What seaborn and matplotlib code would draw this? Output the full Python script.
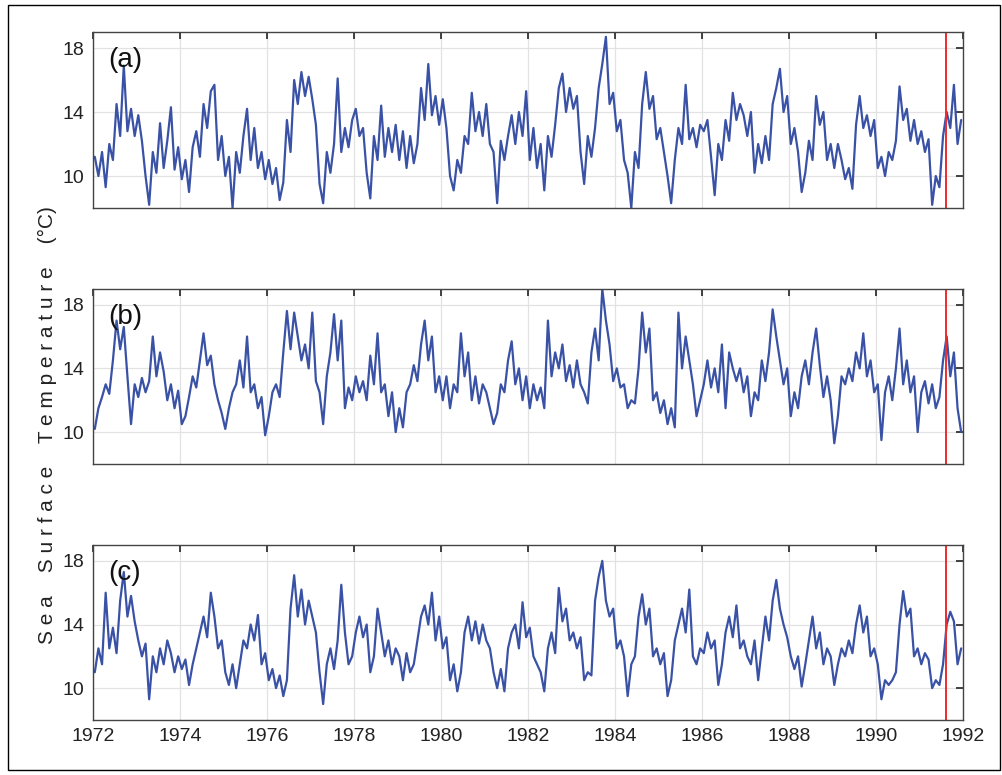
import numpy as np
import pandas as pd
import seaborn as sns
import matplotlib.pyplot as plt
from matplotlib.patches import Rectangle

years = list(range(1972, 1992))
months = list(range(12))
split_year = 1991.6

# monthly readings (°C), one row per year
sst_a = [
    [11.2, 10.0, 11.5, 9.3, 12.0, 11.0, 14.5, 12.5, 16.9, 12.8, 14.2, 12.5],
    [13.8, 12.2, 10.0, 8.2, 11.5, 10.2, 13.3, 10.5, 12.2, 14.3, 10.4, 11.8],
    [9.8, 11.0, 9.0, 11.8, 12.8, 11.2, 14.5, 13.0, 15.3, 15.7, 11.0, 12.5],
    [10.0, 11.2, 8.0, 11.5, 10.2, 12.5, 14.2, 11.0, 13.0, 10.5, 11.5, 9.8],
    [11.0, 9.5, 10.5, 8.5, 9.6, 13.5, 11.5, 16.0, 14.5, 16.5, 15.0, 16.2],
    [14.8, 13.2, 9.5, 8.3, 11.5, 10.2, 12.0, 16.1, 11.5, 13.0, 11.8, 13.5],
    [14.2, 12.5, 13.0, 10.2, 8.6, 12.5, 11.0, 14.4, 11.2, 13.0, 11.5, 13.2],
    [11.0, 12.8, 10.5, 12.5, 10.8, 12.0, 15.5, 13.5, 17.0, 13.8, 15.0, 13.2],
    [14.8, 13.0, 10.0, 9.1, 11.0, 10.2, 12.5, 12.0, 15.2, 12.8, 14.0, 12.5],
    [14.5, 12.0, 11.5, 8.3, 12.2, 11.0, 12.5, 13.8, 12.0, 14.0, 12.5, 15.3],
    [11.0, 13.0, 10.5, 12.0, 9.1, 12.5, 11.2, 13.2, 15.5, 16.4, 14.0, 15.5],
    [14.2, 15.0, 11.5, 9.5, 12.5, 11.2, 13.0, 15.5, 17.0, 18.7, 14.5, 15.2],
    [12.8, 13.5, 11.0, 10.2, 8.0, 11.5, 10.5, 14.5, 16.5, 14.2, 15.0, 12.3],
    [13.0, 11.5, 10.0, 8.3, 11.0, 13.0, 12.0, 15.7, 12.3, 13.0, 11.8, 13.2],
    [12.8, 13.5, 11.2, 8.8, 12.0, 11.0, 13.5, 12.2, 15.2, 13.5, 14.5, 13.8],
    [12.5, 14.0, 10.2, 12.0, 10.8, 12.5, 11.0, 14.5, 15.5, 16.7, 14.0, 15.0],
    [12.0, 13.0, 11.5, 9.0, 10.2, 12.2, 11.0, 15.0, 13.2, 14.0, 11.0, 12.0],
    [10.5, 12.0, 11.0, 9.8, 10.5, 9.2, 13.2, 15.0, 13.0, 13.8, 12.5, 13.5],
    [10.5, 11.2, 10.0, 11.5, 11.0, 12.2, 15.6, 13.5, 14.2, 12.2, 13.5, 12.0],
    [12.8, 11.5, 12.3, 8.2, 10.0, 9.3, 12.5, 14.0, 13.0, 15.7, 12.0, 13.5],
]
sst_b = [
    [10.2, 11.5, 12.2, 13.0, 12.4, 14.5, 17.0, 15.2, 16.6, 13.5, 10.5, 13.0],
    [12.2, 13.4, 12.5, 13.2, 16.0, 13.5, 15.0, 13.8, 12.0, 13.0, 11.5, 12.6],
    [10.5, 11.0, 12.2, 13.5, 12.8, 14.5, 16.2, 14.2, 14.8, 13.0, 12.0, 11.2],
    [10.2, 11.5, 12.5, 13.0, 14.5, 12.8, 16.0, 12.5, 13.0, 11.5, 12.2, 9.8],
    [11.0, 12.5, 13.0, 12.2, 15.0, 17.6, 15.2, 17.5, 16.0, 14.5, 15.5, 14.0],
    [17.5, 13.2, 12.5, 10.5, 13.5, 15.0, 17.4, 14.5, 17.0, 11.5, 12.8, 12.0],
    [13.5, 12.5, 13.2, 12.0, 14.8, 13.0, 16.2, 12.5, 13.0, 11.0, 12.5, 10.0],
    [11.5, 10.3, 12.5, 13.0, 14.2, 13.2, 15.5, 17.0, 14.5, 16.0, 12.5, 13.5],
    [12.0, 13.5, 11.5, 13.0, 12.5, 16.2, 13.5, 15.0, 12.0, 13.5, 11.8, 13.0],
    [12.5, 11.5, 10.5, 11.2, 13.0, 12.5, 14.5, 15.7, 13.0, 14.0, 12.0, 13.5],
    [11.5, 13.0, 12.0, 12.8, 11.5, 17.0, 13.5, 15.0, 14.0, 15.5, 13.2, 14.2],
    [12.8, 14.5, 13.0, 12.5, 11.8, 15.0, 16.5, 14.5, 19.0, 17.0, 15.5, 13.2],
    [14.0, 12.8, 13.0, 11.5, 12.0, 11.8, 14.0, 17.5, 15.0, 16.5, 12.0, 12.5],
    [11.2, 12.0, 10.5, 11.5, 10.3, 17.5, 14.0, 16.0, 14.5, 13.0, 11.0, 12.0],
    [13.0, 14.5, 12.8, 14.0, 12.5, 15.5, 11.5, 15.0, 14.0, 13.2, 14.0, 12.5],
    [13.5, 11.0, 12.5, 12.0, 14.5, 13.2, 15.0, 17.7, 16.0, 14.5, 13.0, 14.0],
    [11.0, 12.5, 11.5, 13.5, 14.5, 13.0, 15.0, 16.5, 14.2, 12.2, 13.5, 12.0],
    [9.3, 11.0, 13.5, 13.0, 14.0, 13.2, 15.0, 14.0, 16.2, 13.5, 14.5, 12.5],
    [13.0, 9.5, 12.5, 13.5, 12.0, 14.0, 16.5, 13.0, 14.5, 12.5, 13.5, 10.0],
    [12.5, 13.2, 11.8, 13.0, 11.5, 12.2, 14.5, 16.0, 13.5, 15.0, 11.5, 10.0],
]
sst_c = [
    [11.0, 12.5, 11.5, 16.0, 12.5, 13.8, 12.2, 15.5, 17.3, 14.5, 15.8, 14.2],
    [13.0, 12.0, 12.8, 9.3, 12.0, 11.0, 12.5, 11.5, 13.0, 12.2, 11.0, 12.0],
    [11.2, 11.8, 10.2, 11.5, 12.5, 13.5, 14.5, 13.2, 16.0, 14.5, 12.5, 13.0],
    [11.0, 10.2, 11.5, 10.0, 11.5, 13.0, 12.5, 14.0, 13.0, 14.6, 11.5, 12.2],
    [10.5, 11.2, 10.0, 10.8, 9.5, 10.5, 15.0, 17.1, 14.5, 16.2, 14.0, 15.5],
    [14.5, 13.5, 11.0, 9.0, 11.5, 12.5, 11.2, 13.0, 16.5, 13.5, 11.5, 12.0],
    [13.5, 14.5, 13.2, 14.0, 11.0, 12.0, 15.0, 13.5, 12.0, 13.0, 11.5, 12.5],
    [12.0, 10.5, 12.2, 11.0, 11.5, 13.0, 14.5, 15.2, 14.0, 16.0, 13.0, 14.5],
    [12.5, 13.2, 10.5, 11.5, 9.8, 11.0, 13.5, 14.5, 13.0, 14.2, 12.8, 14.0],
    [13.0, 12.5, 11.0, 10.0, 11.2, 9.8, 12.5, 13.5, 14.0, 12.5, 15.4, 13.2],
    [13.8, 12.0, 11.5, 11.0, 9.8, 12.5, 13.5, 12.2, 16.3, 14.2, 15.0, 13.0],
    [13.5, 12.5, 13.2, 10.5, 11.0, 10.8, 15.5, 17.0, 18.0, 15.5, 14.5, 15.0],
    [12.5, 13.0, 12.0, 9.5, 11.5, 12.0, 14.5, 15.9, 14.0, 15.0, 12.0, 12.5],
    [11.5, 12.2, 9.5, 10.5, 13.0, 14.0, 15.0, 13.5, 16.2, 12.0, 11.5, 12.5],
    [12.2, 13.5, 12.5, 13.0, 10.2, 11.5, 13.5, 14.5, 13.2, 15.2, 12.5, 13.0],
    [12.0, 11.5, 13.0, 10.5, 12.5, 14.5, 13.0, 15.5, 16.8, 15.0, 14.0, 13.2],
    [12.0, 11.2, 12.0, 10.1, 11.5, 13.0, 14.5, 12.5, 13.5, 11.5, 12.5, 12.0],
    [10.2, 11.5, 12.5, 12.0, 13.0, 12.2, 14.0, 15.2, 13.5, 14.5, 12.0, 12.5],
    [11.5, 9.3, 10.5, 10.2, 10.5, 11.0, 14.0, 16.1, 14.5, 15.0, 12.0, 12.5],
    [11.5, 12.2, 11.8, 10.0, 10.5, 10.2, 11.5, 14.0, 14.8, 14.2, 11.5, 12.5],
]
panel_labels = ['(a)', '(b)', '(c)']
xticks = list(range(1972, 1993, 2))
yticks = [10, 14, 18]

sns.set_style('white')
plt.rcParams['font.family'] = ['Liberation Sans', 'DejaVu Sans']

fig = plt.figure(figsize=(10.03, 7.75), dpi=100)
fig.patches.append(Rectangle((0.008, 0.006), 0.989, 0.988, transform=fig.transFigure,
                             fill=False, edgecolor='black', linewidth=1.0))

boxes = [[0.0927, 0.7316, 0.8674, 0.2271],
         [0.0927, 0.4013, 0.8674, 0.2262],
         [0.0927, 0.0710, 0.8674, 0.2258]]

for box, data, label in zip(boxes, [sst_a, sst_b, sst_c], panel_labels):
    ax = fig.add_axes(box)
    df = pd.DataFrame([(y + (m + 0.5) / 12, data[i][m])
                       for i, y in enumerate(years) for m in months],
                      columns=['time', 'sst'])
    sns.lineplot(data=df, x='time', y='sst', ax=ax, color='#3a52a6', linewidth=1.6)
    ax.axvline(split_year, color='#ee2b2b', linewidth=1.4)
    ax.set_xlim(1972, 1992)
    ax.set_ylim(8, 19)
    ax.set_xticks(xticks)
    ax.set_yticks(yticks)
    ax.grid(True, color='#e2e2e2', linewidth=0.9)
    ax.set_axisbelow(True)
    ax.tick_params(direction='in', length=5, width=1.2, top=True, right=True,
                   labelsize=14, colors='#222222', pad=6)
    for s in ax.spines.values():
        s.set_color('#444444')
        s.set_linewidth(1.0)
    ax.set_xlabel('')
    ax.set_ylabel('')
    if label != '(c)':
        ax.set_xticklabels([])
    ax.text(0.017, 0.84, label, transform=ax.transAxes, fontsize=20,
            ha='left', va='center', color='#111111')

fig.text(0.047, 0.452, 'S e a    S u r f a c e    T e m p e r a t u r e    (°C)',
         rotation=90, ha='center', va='center', fontsize=15, color='#222222')

fig.savefig('out.png', dpi=100)
